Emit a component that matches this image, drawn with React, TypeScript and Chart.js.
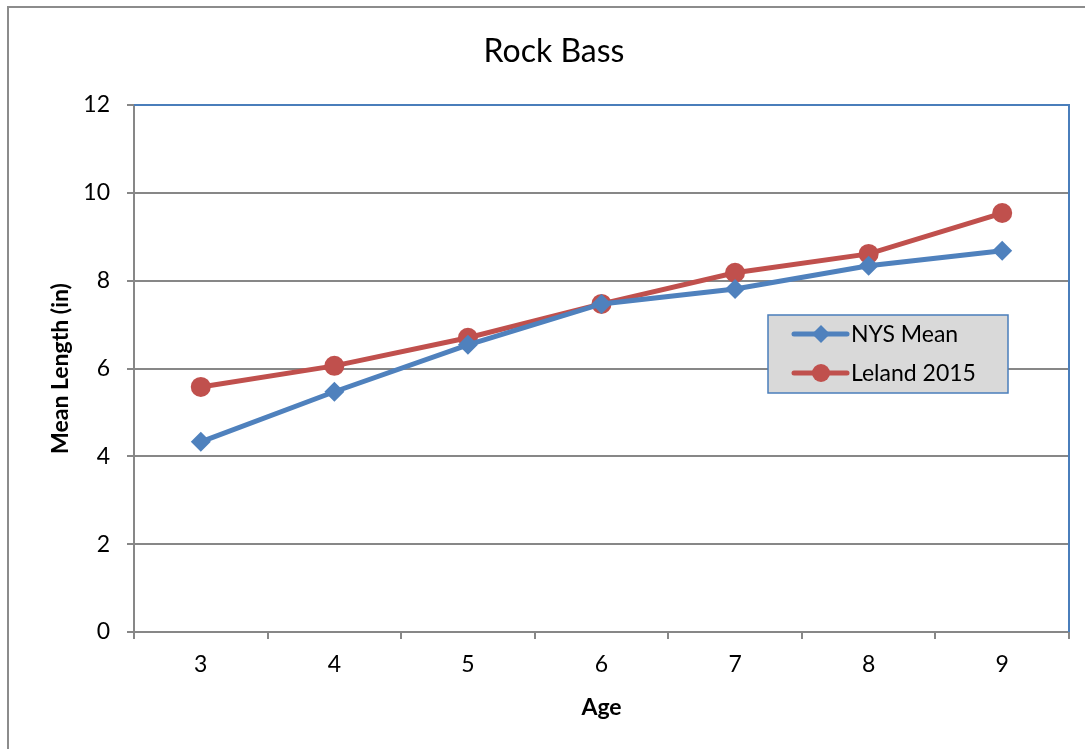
import React, { useEffect, useRef } from "react";
import { Chart, registerables } from "chart.js";

Chart.register(...registerables);

const ages = ["3", "4", "5", "6", "7", "8", "9"];
const nysMean = [4.33, 5.47, 6.54, 7.47, 7.81, 8.34, 8.68];
const leland2015 = [5.58, 6.06, 6.70, 7.47, 8.18, 8.61, 9.54];
const yTicks = [0, 2, 4, 6, 8, 10, 12];

const FONT = "Lato, 'Open Sans', sans-serif";
const BLUE = "#4F81BD";
const RED = "#C0504D";
const GRID = "#878787";

const framePlugin = {
  id: "frame",
  beforeDraw(chart: any) {
    const { ctx } = chart;
    ctx.save();
    ctx.fillStyle = "#ffffff";
    ctx.fillRect(0, 0, chart.width, chart.height);
    ctx.strokeStyle = "#8c8c8c";
    ctx.lineWidth = 2;
    ctx.strokeRect(8, 7, chart.width + 20, chart.height + 20);
    ctx.restore();
  },
  beforeDatasetsDraw(chart: any) {
    const { ctx, chartArea: a } = chart;
    ctx.save();
    ctx.strokeStyle = "#4A7EBB";
    ctx.lineWidth = 2;
    ctx.beginPath();
    ctx.moveTo(a.left, a.top);
    ctx.lineTo(a.right, a.top);
    ctx.lineTo(a.right, a.bottom);
    ctx.stroke();
    ctx.restore();
  },
  afterDraw(chart: any) {
    const { ctx } = chart;
    ctx.save();
    // title
    ctx.fillStyle = "#000";
    ctx.font = `32px ${FONT}`;
    ctx.textAlign = "center";
    ctx.textBaseline = "middle";
    ctx.fillText("Rock Bass", 554, 52);
    // legend box
    const bx = 768, by = 315, bw = 240, bh = 78;
    ctx.fillStyle = "#D9D9D9";
    ctx.fillRect(bx, by, bw, bh);
    ctx.strokeStyle = "#4A7EBB";
    ctx.lineWidth = 1.5;
    ctx.strokeRect(bx, by, bw, bh);
    const items = chart.data.datasets.map((d: any, i: number) => ({
      label: d.label,
      color: d.borderColor,
      style: d.pointStyle,
      y: by + 19 + i * 39,
    }));
    items.forEach((it: any) => {
      ctx.strokeStyle = it.color;
      ctx.lineWidth = 5;
      ctx.lineCap = "round";
      ctx.beginPath();
      ctx.moveTo(794, it.y);
      ctx.lineTo(847, it.y);
      ctx.stroke();
      ctx.fillStyle = it.color;
      ctx.beginPath();
      if (it.style === "rectRot") {
        ctx.moveTo(821 - 9, it.y);
        ctx.lineTo(821, it.y - 9);
        ctx.lineTo(821 + 9, it.y);
        ctx.lineTo(821, it.y + 9);
        ctx.closePath();
      } else {
        ctx.arc(821, it.y, 9, 0, Math.PI * 2);
      }
      ctx.fill();
      ctx.fillStyle = "#000";
      ctx.font = `23px ${FONT}`;
      ctx.textAlign = "left";
      ctx.textBaseline = "middle";
      ctx.fillText(it.label, 851, it.y + 1);
    });
    ctx.restore();
  },
};

export default function App() {
  const ref = useRef<HTMLCanvasElement | null>(null);
  useEffect(() => {
    if (!ref.current) return;
    const chart = new Chart(ref.current, {
      type: "line",
      data: {
        labels: ages,
        datasets: [
          {
            label: "NYS Mean",
            data: nysMean,
            borderColor: BLUE,
            backgroundColor: BLUE,
            borderWidth: 5,
            pointStyle: "rectRot",
            pointRadius: 10,
            pointBorderWidth: 0,
            tension: 0,
          },
          {
            label: "Leland 2015",
            data: leland2015,
            borderColor: RED,
            backgroundColor: RED,
            borderWidth: 5,
            pointStyle: "circle",
            pointRadius: 10,
            pointBorderWidth: 0,
            tension: 0,
          },
        ],
      },
      options: {
        responsive: false,
        animation: false,
        layout: { padding: { left: 0, top: 105, right: 16, bottom: 0 } },
        plugins: {
          legend: { display: false },
          title: { display: false },
          tooltip: { enabled: false },
        },
        scales: {
          x: {
            offset: true,
            grid: {
              offset: true,
              drawOnChartArea: false,
              drawTicks: true,
              tickLength: 7,
              color: GRID,
              lineWidth: 2,
            },
            border: { color: GRID, width: 2 },
            ticks: {
              color: "#000",
              font: { family: FONT, size: 23 },
              padding: 12,
            },
            title: {
              display: true,
              text: "Age",
              color: "#000",
              font: { family: FONT, size: 23, weight: "bold" },
              padding: { top: 0, bottom: 28 },
            },
            afterFit: (s: any) => {
              s.height = 117;
            },
          },
          y: {
            min: 0,
            max: 12,
            afterBuildTicks: (s: any) => {
              s.ticks = yTicks.map((v) => ({ value: v }));
            },
            grid: {
              color: GRID,
              lineWidth: 2,
              drawTicks: true,
              tickLength: 7,
            },
            border: { color: GRID, width: 2 },
            ticks: {
              color: "#000",
              font: { family: FONT, size: 23 },
              padding: 17,
            },
            title: {
              display: true,
              text: "Mean Length (in)",
              color: "#000",
              font: { family: FONT, size: 23, weight: "bold" },
              padding: { top: 47, bottom: 0 },
            },
            afterFit: (s: any) => {
              s.width = 134;
            },
          },
        },
      },
      plugins: [framePlugin],
    });
    return () => chart.destroy();
  }, []);
  return (
    <div style={{ position: "fixed", left: 0, top: 0, width: 1085, height: 749 }}>
      <canvas ref={ref} width={1085} height={749} style={{ display: "block" }} />
    </div>
  );
}
